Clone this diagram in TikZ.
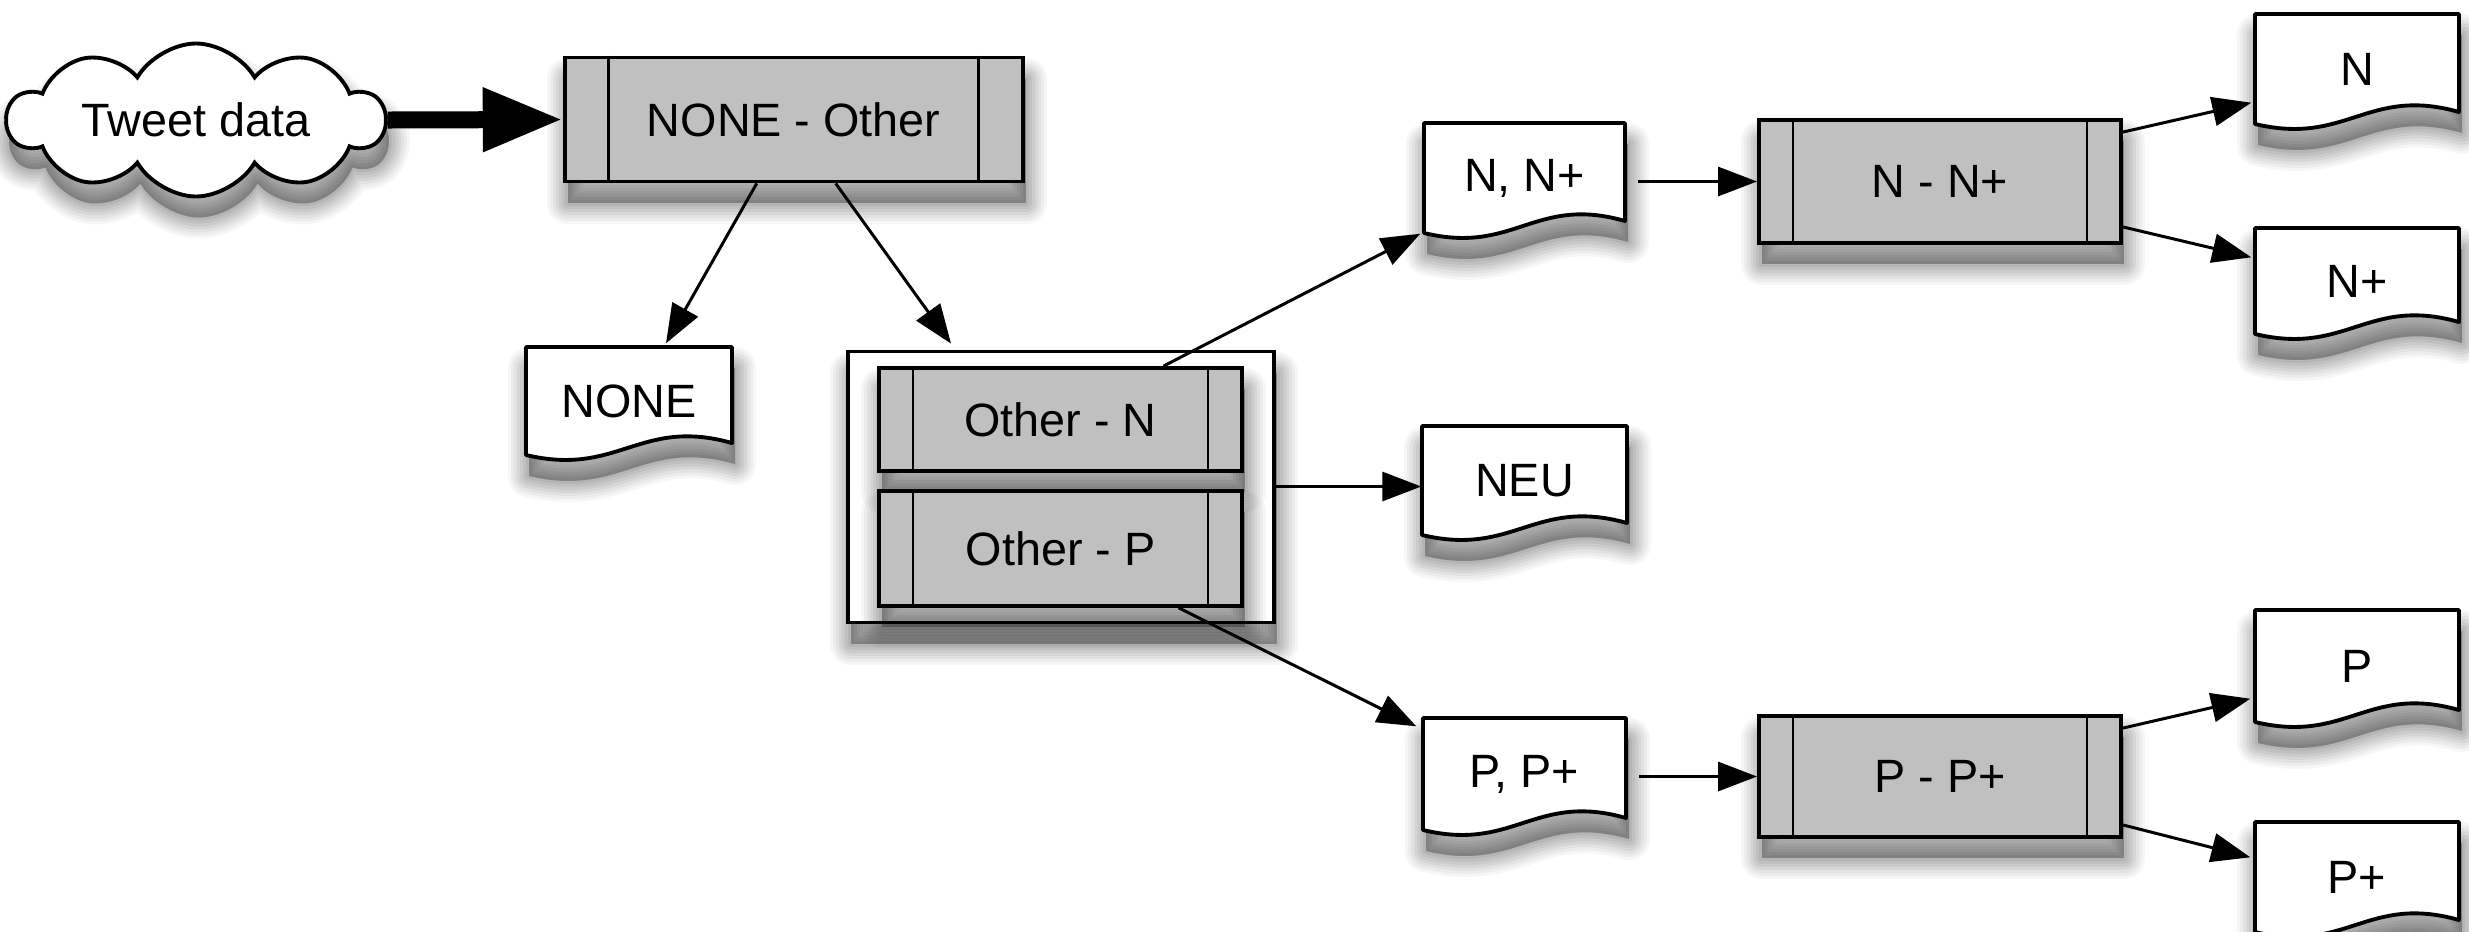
\documentclass[tikz,border=0pt]{standalone}
\usepackage{fontspec}
\setmainfont{Liberation Sans}
\usetikzlibrary{arrows.meta,shapes.symbols,calc}
\definecolor{procfill}{RGB}{192,192,192}
\tikzset{
  shadowcopy/.style 2 args={preaction={draw=black, fill=black, opacity=#2,
      line width=#1, line join=round,
      transform canvas={xshift=0.3mm, yshift=-2.1mm}}},
  soft shadow/.style={shadowcopy={4.2mm}{0.035}, shadowcopy={3.6mm}{0.04},
      shadowcopy={3mm}{0.045}, shadowcopy={2.4mm}{0.05}, shadowcopy={1.8mm}{0.05},
      shadowcopy={1.2mm}{0.055}, shadowcopy={0.6mm}{0.06}},
  labelfont/.style={font=\fontsize{13.3}{16}\selectfont},
  procbox/.style={draw=black, line width=1.1pt, fill=procfill, soft shadow,
      labelfont, inner sep=0pt},
  frame/.style={draw=black, line width=1.1pt, fill=white, soft shadow, inner sep=0pt},
  doclabel/.style={inner sep=0pt, labelfont},
  docline/.style={draw=black, line width=1.1pt, fill=white, soft shadow, line join=round},
  bar/.style={line width=0.75pt},
  link/.style={line width=0.85pt, -{Triangle[length=3.9mm,width=2.9mm]}},
  feed/.style={line width=1.7mm, -{Triangle[length=8mm,width=6mm]}},
}
% document symbol: name, centre x, centre y, width, height (drawing units), text
\newcommand\docpage[6]{%
  \draw[docline] ({#2-#4/2},{#3-#5/2}) -- ({#2+#4/2},{#3-#5/2})
    -- ({#2+#4/2},{#3+#5/2-12})
    .. controls ({#2+#4/2-0.45*#4},{#3+#5/2-38}) and ({#2-#4/2+0.45*#4},{#3+#5/2+22})
    .. ({#2-#4/2},{#3+#5/2}) -- cycle;
  \node[doclabel, minimum width={#4*0.1mm}, minimum height={#5*0.1mm}] (#1) at (#2,#3) {#6};}
% predefined-process box: name, position, width, height, text, bar inset
\newcommand\procnode[6]{%
  \node[procbox, minimum width=#3, minimum height=#4] (#1) at #2 {#5};
  \draw[bar] ([xshift=#6]#1.north west) -- ([xshift=#6]#1.south west);
  \draw[bar] ([xshift=-#6]#1.north east) -- ([xshift=-#6]#1.south east);}

\begin{document}
\begin{tikzpicture}[x=0.1mm, y=-0.1mm]
  \useasboundingbox (0,0) rectangle (2469,931);

  \node[cloud, cloud puffs=10, cloud puff arc=120, cloud ignores aspect,
        draw=black, line width=1.1pt, fill=white, soft shadow, labelfont,
        minimum width=37.7mm, minimum height=15.3mm, inner sep=0pt]
        (tweets) at (196,120) {Tweet data};

  \procnode{noneother}{(793.7,119.5)}{45.8mm}{12.4mm}{NONE - Other}{4.6mm}
  \docpage{none}{629}{401}{206}{108}{NONE}

  \node[frame, minimum width=42.6mm, minimum height=27.1mm] (split) at (1061,487) {};
  \procnode{othern}{(1060.5,419.5)}{36.3mm}{10.3mm}{Other - N}{3.6mm}
  \procnode{otherp}{(1060.5,548.3)}{36.3mm}{11.5mm}{Other - P}{3.6mm}

  \docpage{nn}{1524.5}{178}{201}{110}{N, N+}
  \docpage{neu}{1524.5}{480.5}{205}{109}{NEU}
  \docpage{pp}{1524.5}{774}{203}{112}{P, P+}

  \procnode{nsplit}{(1940,181.5)}{36.2mm}{12.3mm}{N - N+}{3.6mm}
  \procnode{psplit}{(1940,776.5)}{36.2mm}{12.1mm}{P - P+}{3.6mm}

  \docpage{n}{2357}{69}{204}{110}{N}
  \docpage{nplus}{2357}{281}{204}{106}{N+}
  \docpage{p}{2357}{666}{204}{112}{P}
  \docpage{pplus}{2357}{877}{204}{110}{P+}

  % connectors
  \draw[feed] (tweets.east) -- (noneother.west);
  \draw[link] ([xshift=-3.7mm]noneother.south) -- ([xshift=3.7mm,yshift=0.3mm]none.north);
  \draw[link] ([xshift=4.2mm]noneother.south) -- ([xshift=-11mm,yshift=0.6mm]split.north);
  \draw[link] ([xshift=10.3mm]othern.north) -- ([xshift=-0.3mm]nn.south west);
  \draw[link] ([xshift=11.8mm]otherp.south) -- ([xshift=-0.6mm,yshift=-0.9mm]pp.north west);
  \draw[link] (split.east |- neu.west) ++(0,6) coordinate (s) -- (s -| neu.west);
  \draw[link, shorten <=1.2mm] (nn.east |- nsplit.west) -- (nsplit.west);
  \draw[link, shorten <=1.2mm] (pp.east |- psplit.west) -- (psplit.west);
  \draw[link] ([yshift=-1.4mm]nsplit.north east) -- ([xshift=-0.3mm,yshift=2.2mm]n.south west);
  \draw[link] ([yshift=1.8mm]nsplit.south east) -- ([xshift=-0.3mm,yshift=-3mm]nplus.north west);
  \draw[link] ([yshift=-1.4mm]psplit.north east) -- ([xshift=-0.4mm,yshift=2.4mm]p.south west);
  \draw[link] ([yshift=1.4mm]psplit.south east) -- ([xshift=-0.4mm,yshift=-3.6mm]pplus.north west);
\end{tikzpicture}
\end{document}
